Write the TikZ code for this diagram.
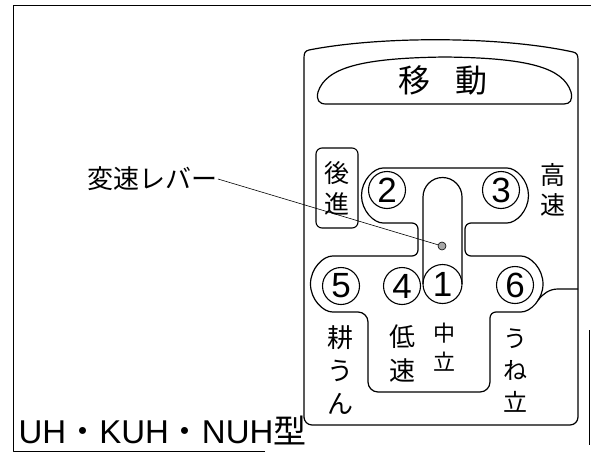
\documentclass[tikz,border=0pt]{standalone}
\usepackage{fontspec}
\setmainfont{Liberation Sans}
\newfontfamily\jpfont{Noto Sans CJK JP}

\tikzset{
  gatepos/.style={circle, draw, line width=1.1pt, minimum size=37pt, inner sep=0pt,
    font=\fontsize{35}{35}\selectfont},
  vlabel/.style={align=center, inner sep=0pt},
}

\begin{document}
\begin{tikzpicture}[x=1pt, y=-1pt, line width=1.2pt, line join=round]
  \useasboundingbox (0,0) rectangle (591,455);
  % 外枠
  \draw[line width=1pt] (265,451) -- (13,451) -- (13,5) -- (591,5);
  \draw[line width=1pt] (589,330) -- (589,445);
  % パネル
  \draw (309,50) .. controls (380,36) and (500,36) .. (573,52) .. controls (577,53) and (578,55) .. (578,60)
    [rounded corners=8pt] -- (578,425) -- (304,425) -- (304,410) [sharp corners] -- (304,58)
    .. controls (304,53) and (305,51) .. (309,50);
  % 表題
  \draw (326,104) -- (564,104) .. controls (570,104) and (573,100) .. (571,92)
    .. controls (563,68) and (530,58) .. (445,57) .. controls (360,58) and (326,68) .. (318,92)
    .. controls (316,100) and (319,104) .. (326,104) -- cycle;
  \node[font=\jpfont\fontsize{32}{32}\selectfont] (title) at (443,80) {移\hspace{25pt}動};
  % シフトゲート
  \draw[rounded corners=6pt] (418,256) -- (418,223) -- (389,223)
    arc[start angle=90, end angle=270, radius=27.5] -- (501,168)
    arc[start angle=-90, end angle=90, radius=27.5] -- (465,223) -- (465,256) -- (515,256)
    arc[start angle=-90, end angle=90, radius=28] -- (490,312) [rounded corners=10pt] -- (490,392)
    -- (368,392) -- (368,312) [rounded corners=6pt] -- (338.5,312)
    arc[start angle=90, end angle=270, radius=28] -- cycle;
  \draw (578,289) -- (558,289) .. controls (549,289) and (543,294) .. (538,300);
  % レバー溝
  \draw (423,284) -- (423,197) arc[start angle=180, end angle=360, radius=19.5] -- (462,284);
  % 位置番号
  \node[gatepos] (p2) at (387,190) {2};
  \node[gatepos] (p3) at (501,190) {3};
  \node[gatepos] (p5) at (341,286) {5};
  \node[gatepos] (p4) at (402,286) {4};
  \node[gatepos, minimum size=39pt] (p1) at (442.5,284) {1};
  \node[gatepos] (p6) at (515,285) {6};
  % 変速レバー
  \node[circle, draw, line width=0.6pt, fill=gray!70, minimum size=8pt, inner sep=0pt] (lever) at (442,246) {};
  \node[anchor=east, inner sep=0pt, font=\jpfont\fontsize{26}{26}\selectfont] (lbl) at (218,179) {変速レバー};
  \draw[line width=0.6pt] (lbl.east) -- (lever);
  % 文字
  \node[vlabel, draw, line width=1.1pt, rounded corners=6pt, minimum width=42pt, minimum height=80pt,
    font=\jpfont\fontsize{25}{31}\selectfont] (back) at (337,188) {後\\進};
  \node[vlabel, font=\jpfont\fontsize{25}{30}\selectfont] (fast) at (553,190) {高\\速};
  \node[vlabel, font=\jpfont\fontsize{26}{33}\selectfont] (till) at (340,370) {耕\\う\\ん};
  \node[vlabel, font=\jpfont\fontsize{26}{34}\selectfont] (slow) at (402,354) {低\\速};
  \node[vlabel, font=\jpfont\fontsize{22}{29}\selectfont] (neut) at (444,347) {中\\立};
  \node[vlabel, font=\jpfont\fontsize{24}{32}\selectfont] (ridge) at (515,371) {う\\ね\\立};
  \node[anchor=base west, inner sep=0pt, font=\fontsize{33}{33}\selectfont] (model) at (18,443)
    {UH{\jpfont ・}KUH{\jpfont ・}NUH{\jpfont 型}};
\end{tikzpicture}
\end{document}
